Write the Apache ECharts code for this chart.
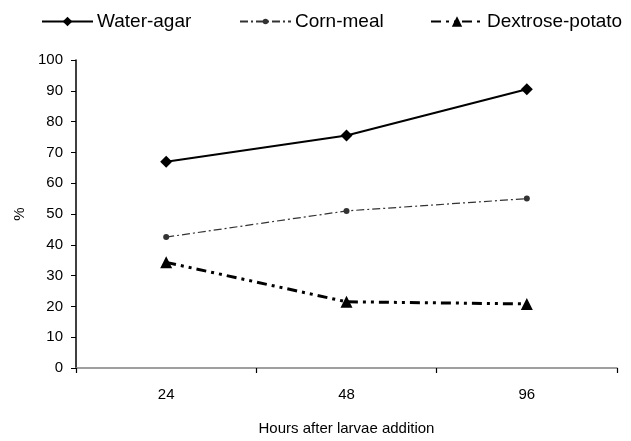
<!DOCTYPE html>
<html><head><meta charset="utf-8">
<script src="https://cdn.jsdelivr.net/npm/echarts@6/dist/echarts.min.js"></script>
<style>html,body{margin:0;padding:0;background:#fff}#c{width:631px;height:441px}</style>
</head><body><div id="c"></div>
<script>
var categories = ['24', '48', '96'];
var waterAgar = [67, 75.5, 90.5];
var cornMeal = [42.5, 51, 55];
var dextrosePotato = [34.3, 21.5, 20.8];
var yTicks = [0, 10, 20, 30, 40, 50, 60, 70, 80, 90, 100];

var font = "'Liberation Sans', Arial, sans-serif";
var legendText = {fontFamily: font, fontSize: 19, color: '#000', padding: [0, 0, 0, -1]};
var chart = echarts.init(document.getElementById('c'));
chart.setOption({
  animation: false,
  backgroundColor: '#fff',
  textStyle: {fontFamily: font},
  legend: [
    {top: 12, left: 41, padding: 0, itemWidth: 51, itemHeight: 12, textStyle: legendText, data: ['Water-agar']},
    {top: 12, left: 239, padding: 0, itemWidth: 51, itemHeight: 7, textStyle: legendText, data: ['Corn-meal']},
    {top: 12, left: 430, padding: 0, itemWidth: 52, itemHeight: 13, textStyle: legendText, data: ['Dextrose-potato']}
  ],
  grid: {left: 76, right: 14, top: 60, bottom: 73, containLabel: false, outerBoundsMode: 'none'},
  xAxis: {
    type: 'category', data: categories, boundaryGap: true,
    name: 'Hours after larvae addition', nameLocation: 'middle', nameGap: 53,
    nameTextStyle: {fontFamily: font, fontSize: 15, color: '#000'},
    axisLine: {lineStyle: {color: '#808080', width: 1.5}},
    axisTick: {show: true, length: 5, lineStyle: {color: '#000', width: 1.2}},
    axisLabel: {fontFamily: font, fontSize: 15, color: '#000', margin: 19}
  },
  yAxis: {
    type: 'value', min: yTicks[0], max: yTicks[yTicks.length - 1], interval: 10,
    name: '%', nameLocation: 'middle', nameGap: 34, nameRotate: 90,
    nameTextStyle: {fontFamily: font, fontSize: 15, color: '#000'},
    axisLine: {show: true, lineStyle: {color: '#000', width: 1.5}},
    axisTick: {show: true, length: 5, lineStyle: {color: '#000'}},
    axisLabel: {fontFamily: font, fontSize: 15, color: '#000', margin: 13},
    splitLine: {show: false}
  },
  series: [
    {
      name: 'Water-agar', type: 'line', data: waterAgar,
      symbol: 'diamond', symbolSize: 12,
      itemStyle: {color: '#000'},
      lineStyle: {color: '#000', width: 2}
    },
    {
      name: 'Corn-meal', type: 'line', data: cornMeal,
      symbol: 'circle', symbolSize: 6,
      itemStyle: {color: '#333'},
      lineStyle: {color: '#333', width: 1.2, type: [8, 3, 2, 3]}
    },
    {
      name: 'Dextrose-potato', type: 'line', data: dextrosePotato,
      symbol: 'triangle', symbolSize: 12,
      itemStyle: {color: '#000'},
      lineStyle: {color: '#000', width: 3, type: [10, 5, 3, 5, 3, 5]}
    }
  ]
});
</script></body></html>
